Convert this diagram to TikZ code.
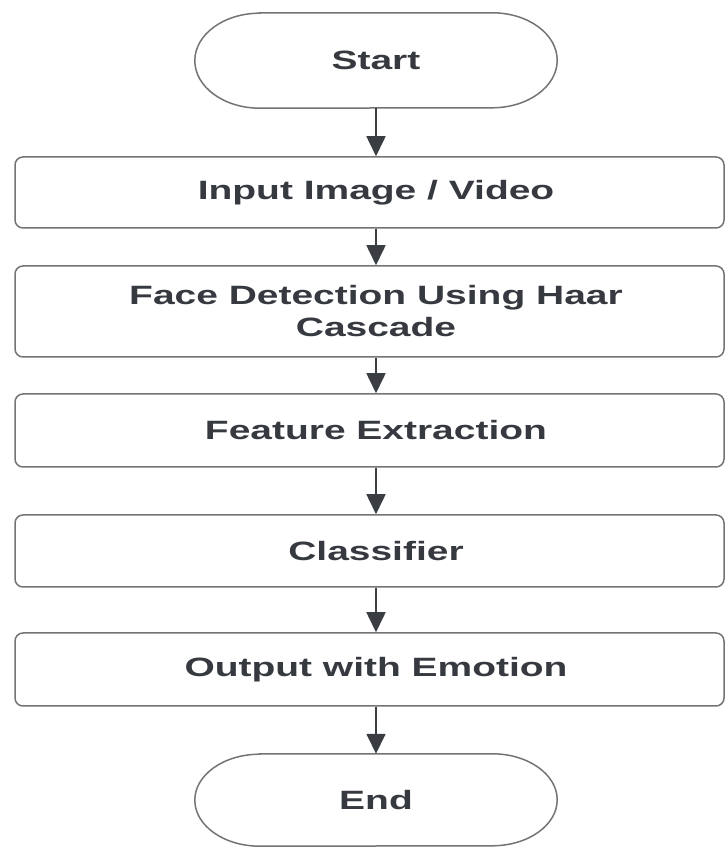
\documentclass[tikz,border=0pt]{standalone}
\usepackage{fontspec}
\usetikzlibrary{arrows.meta}
\newfontfamily\flowfont[FakeStretch=1.47]{Liberation Sans}
\definecolor{edgegrey}{HTML}{747474}
\definecolor{inkdark}{HTML}{363A40}
\definecolor{arrowdark}{HTML}{3A3D42}
\tikzset{
  x=1pt, y=1pt,
  lbl/.style={font=\flowfont\bfseries\fontsize{26.5}{32}\selectfont, text=inkdark, align=center, inner sep=0pt},
  stepbox/.style={draw=edgegrey, line width=1.5pt, rounded corners=8pt, minimum width=709pt, inner sep=0pt, fill=white},
  termbox/.style={minimum width=362pt, inner sep=0pt},
  termline/.style={draw=edgegrey, line width=1.5pt, fill=white},
  flow/.style={draw=arrowdark, line width=1.6pt, -{Triangle[width=19pt,length=20pt]}}
}
\begin{document}
\begin{tikzpicture}
\useasboundingbox[fill=white] (0,0) rectangle (725,848);

% terminals (stadium outlines with elliptical ends)
\node[termbox, minimum height=95pt] (s) at (376,787.5) {};
\draw[termline] ([xshift=65pt]s.north west) -- ([xshift=-65pt]s.north east)
  arc[start angle=90, end angle=-90, x radius=65pt, y radius=47.5pt]
  -- ([xshift=65pt]s.south west)
  arc[start angle=270, end angle=90, x radius=65pt, y radius=47.5pt] -- cycle;
\node[lbl] (st) at (s.center) {Start};

\node[termbox, minimum height=92pt] (e) at (376,48) {};
\draw[termline] ([xshift=65pt]e.north west) -- ([xshift=-65pt]e.north east)
  arc[start angle=90, end angle=-90, x radius=65pt, y radius=46pt]
  -- ([xshift=65pt]e.south west)
  arc[start angle=270, end angle=90, x radius=65pt, y radius=46pt] -- cycle;
\node[lbl] (et) at (e.center) {End};

% process steps
\node[stepbox, minimum height=71pt] (b1) at (369.5,655.5) {};
\node[lbl] (t1) at (376,655.5) {Input Image / Video};
\node[stepbox, minimum height=91pt] (b2) at (369.5,536.5) {};
\node[lbl] (t2) at (376,536.5) {Face Detection Using Haar\\Cascade};
\node[stepbox, minimum height=73pt] (b3) at (369.5,417.5) {};
\node[lbl] (t3) at (376,417.5) {Feature Extraction};
\node[stepbox, minimum height=72pt] (b4) at (369.5,297) {};
\node[lbl] (t4) at (376,297) {Classifier};
\node[stepbox, minimum height=73pt] (b5) at (369.5,178.5) {};
\node[lbl] (t5) at (376,178.5) {Output with Emotion};

% connectors
\draw[flow] (s.south) -- (s.south |- b1.north);
\draw[flow] (s.south |- b1.south) -- (s.south |- b2.north);
\draw[flow] (s.south |- b2.south) -- (s.south |- b3.north);
\draw[flow] (s.south |- b3.south) -- (s.south |- b4.north);
\draw[flow] (s.south |- b4.south) -- (s.south |- b5.north);
\draw[flow] (s.south |- b5.south) -- (e.north);
\end{tikzpicture}
\end{document}
